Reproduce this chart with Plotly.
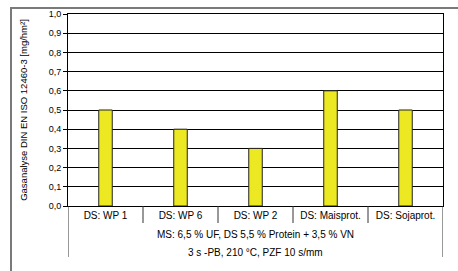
import plotly.graph_objects as go

categories = ["DS: WP 1", "DS: WP 6", "DS: WP 2", "DS: Maisprot.", "DS: Sojaprot."]
values = [0.5, 0.4, 0.3, 0.6, 0.5]
group_line1 = "MS: 6,5 % UF, DS 5,5 % Protein + 3,5 % VN"
group_line2 = "3 s -PB, 210 °C, PZF 10 s/mm"
y_title = "Gasanalyse DIN EN ISO 12460-3 [mg/hm²]"

W, H = 458, 271
L, R, T, B = 68, 15, 14, 65
pw, ph = W - L - R, H - T - B

def px_x(px):
    return (px - L) / pw

def px_y(py):
    return (H - B - py) / ph

font = "Liberation Sans, Arial, sans-serif"
fig = go.Figure()
fig.add_trace(go.Bar(
    x=list(range(len(categories))), y=values, width=0.18,
    marker=dict(color="#ECE822", line=dict(color="#222222", width=1)),
))

shapes = []
# outer frame
shapes.append(dict(type="rect", xref="paper", yref="paper",
                   x0=px_x(11), x1=px_x(470), y0=px_y(285), y1=px_y(8),
                   line=dict(color="#7a7a7a", width=2), layer="below"))
n = len(categories)
for i in range(1, n):
    shapes.append(dict(type="line", xref="x", yref="paper",
                       x0=i - 0.5, x1=i - 0.5, y0=0, y1=px_y(223),
                       line=dict(color="#333333", width=1)))
for xv in (-0.5, n - 0.5):
    shapes.append(dict(type="line", xref="x", yref="paper",
                       x0=xv, x1=xv, y0=0, y1=px_y(257),
                       line=dict(color="#333333", width=1)))

annotations = [
    dict(text=group_line1, xref="paper", yref="paper", x=0.5, y=px_y(234),
         showarrow=False, font=dict(size=10, color="#000"), yanchor="middle"),
    dict(text=group_line2, xref="paper", yref="paper", x=0.5, y=px_y(252),
         showarrow=False, font=dict(size=10, color="#000"), yanchor="middle"),
]

fig.update_layout(
    width=W, height=H, margin=dict(l=L, r=R, t=T, b=B, autoexpand=False),
    paper_bgcolor="white", plot_bgcolor="white",
    separators=",.", showlegend=False,
    font=dict(family=font, size=10, color="#000"),
    shapes=shapes, annotations=annotations,
    xaxis=dict(range=[-0.5, n - 0.5], tickmode="array",
               tickvals=list(range(n)), ticktext=categories,
               showgrid=False, showline=True, linecolor="#000", linewidth=1,
               mirror=True, ticks="", tickfont=dict(size=10), fixedrange=True,
               automargin=False),
    yaxis=dict(range=[0, 1], dtick=0.1, tickformat=".1f",
               showgrid=True, gridcolor="#000", gridwidth=1,
               showline=True, linecolor="#000", linewidth=1, mirror=True,
               ticks="outside", ticklen=4, tickcolor="#000",
               tickfont=dict(size=9),
               title=dict(text=y_title, font=dict(size=9.5), standoff=19),
               zeroline=False, automargin=False),
)

fig.write_html("out.html", config={"displayModeBar": False, "staticPlot": True})
with open("out.html", encoding="utf-8") as f:
    html = f.read()
html = html.replace("<body>", '<body style="margin:0;padding:0;overflow:hidden">', 1)
html = html.replace("<head>", '<head><style>html,body{margin:0;padding:0;overflow:hidden}</style>', 1)
with open("out.html", "w", encoding="utf-8") as f:
    f.write(html)
